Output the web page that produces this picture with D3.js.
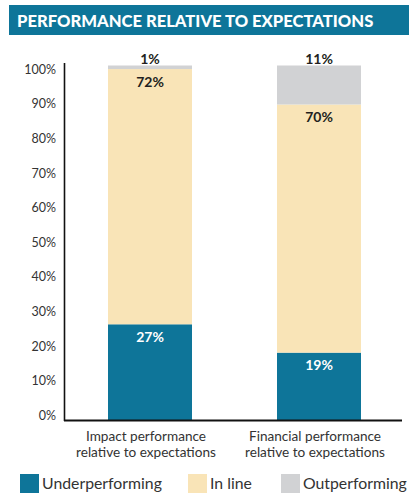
<!DOCTYPE html>
<html><head><meta charset="utf-8">
<script src="https://cdn.jsdelivr.net/npm/d3@7"></script>
<style>body{margin:0;background:#fff}</style>
</head><body>
<script>
const title = "PERFORMANCE RELATIVE TO EXPECTATIONS";
const categories = [["Impact performance","relative to expectations"],["Financial performance","relative to expectations"]];
const seriesNames = ["Underperforming","In line","Outperforming"];
const underperforming = [27, 19];
const inLine = [72, 70];
const outperforming = [1, 11];
const yTicks = [0,10,20,30,40,50,60,70,80,90,100];
const colors = ["#0e7599","#f9e4b7","#d1d2d4"];

const W=413,H=500;
const svg=d3.select("body").append("svg").attr("width",W).attr("height",H);
const font="Lato, 'Noto Sans', sans-serif";

// title banner
svg.append("rect").attr("x",9).attr("y",5).attr("width",400).attr("height",30).attr("fill","#0e7599");
svg.append("text").attr("x",17).attr("y",27).attr("fill","#fff").attr("font-family",font)
  .attr("font-weight",900).attr("font-size",16.6).text(title);

const bw = 84;
const xs=d3.scalePoint().domain(d3.range(categories.length)).range([150,319]);
const y=d3.scaleLinear().domain([0,100]).range([420,65.5]);
const yLab=d3.scaleLinear().domain([0,100]).range([415,69]);

const data = categories.map((c,i)=>({i, vals:[underperforming[i],inLine[i],outperforming[i]]}));
const stack=d3.stack().keys([0,1,2]).value((d,k)=>d.vals[k]);
const series=stack(data);

series.forEach((s,k)=>{
  svg.append("g").selectAll("rect").data(s).join("rect")
    .attr("x",(d,i)=>xs(i)-bw/2).attr("width",bw)
    .attr("y",d=>y(d[1])).attr("height",d=>y(d[0])-y(d[1]))
    .attr("fill",colors[k]);
});

// value labels
series.forEach((s,k)=>{
  svg.append("g").selectAll("text").data(s).join("text")
    .attr("x",(d,i)=>xs(i)).attr("text-anchor","middle")
    .attr("y",d=> k===2 ? y(d[1])-1.5 : y(d[1])+17.5)
    .attr("font-family",font).attr("font-weight",700).attr("font-size",14)
    .attr("fill",k===0?"#fff":"#231f20")
    .text(d=>(d[1]-d[0])+"%");
});

// y axis labels
const ya=svg.append("g").attr("transform","translate(56,0)")
  .call(d3.axisLeft(yLab).tickValues(yTicks).tickSize(0).tickPadding(0).tickFormat(d=>d+"%"));
ya.select(".domain").remove();
ya.selectAll("text").attr("font-family",font).attr("font-size",12.5).attr("fill","#333").attr("dy","0.35em");

// axis lines
svg.append("line").attr("x1",64.5).attr("x2",64.5).attr("y1",63).attr("y2",421).attr("stroke","#111").attr("stroke-width",1.6);
svg.append("line").attr("x1",64).attr("x2",402).attr("y1",420.5).attr("y2",420.5).attr("stroke","#111").attr("stroke-width",1.8);

// category labels
categories.forEach((c,i)=>{
  const t=svg.append("text").attr("text-anchor","middle").attr("font-family",font)
    .attr("font-size",13.6).attr("fill","#333");
  c.forEach((line,j)=>t.append("tspan").attr("x",xs(i)-4).attr("y",441+j*15.5).text(line));
});

// legend
const legX=[20,188,281];
seriesNames.forEach((n,k)=>{
  svg.append("rect").attr("x",legX[k]).attr("y",474).attr("width",19).attr("height",19).attr("fill",colors[k]);
  svg.append("text").attr("x",legX[k]+22).attr("y",489).attr("font-family",font).attr("font-size",15.8)
    .attr("fill","#333").text(n);
});
</script>
</body></html>
